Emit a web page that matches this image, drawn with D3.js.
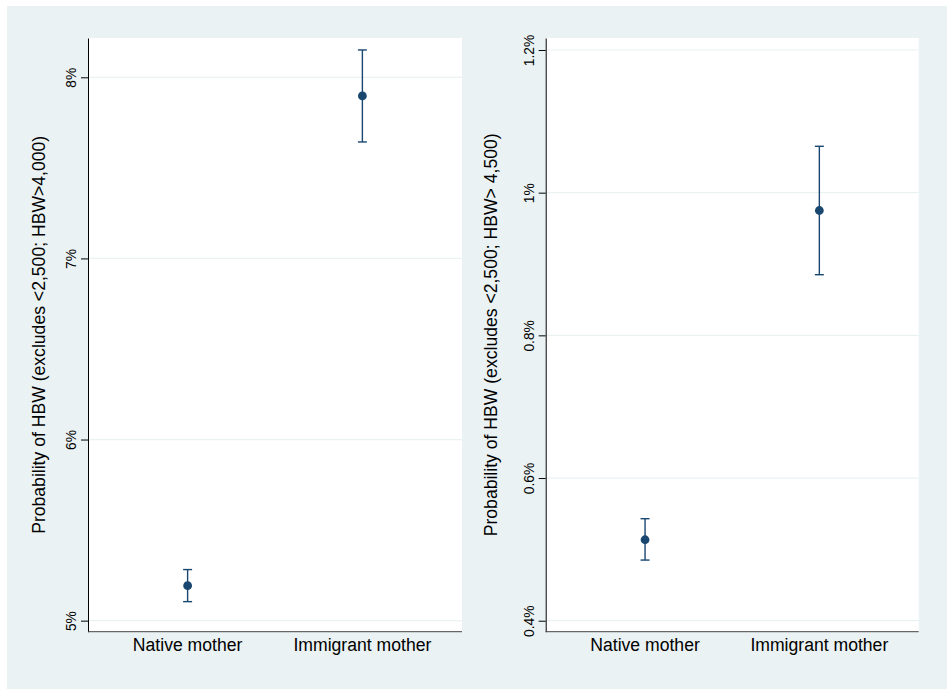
<!DOCTYPE html>
<html>
<head>
<meta charset="utf-8">
<script src="https://cdn.jsdelivr.net/npm/d3@7"></script>
<style>
  body { margin: 0; background: #fff; }
  text { font-family: "Liberation Sans", Arial, Helvetica, sans-serif; fill: #000; }
</style>
</head>
<body>
<div id="chart"></div>
<script>
// categories on the x axis of both panels
const categories = ["Native mother", "Immigrant mother"];

// panel 1: HBW > 4,000 (percent)
const hbw4000Est = [5.193, 7.897];
const hbw4000Lo  = [5.105, 7.643];
const hbw4000Hi  = [5.282, 8.151];
const hbw4000Ticks = [5, 6, 7, 8];

// panel 2: HBW > 4,500 (percent)
const hbw4500Est = [0.5135, 0.975];
const hbw4500Lo  = [0.485, 0.885];
const hbw4500Hi  = [0.543, 1.065];
const hbw4500Ticks = [0.4, 0.6, 0.8, 1.0, 1.2];

const W = 947, H = 689;
const navy = "#1a476f", bgCol = "#eaf2f3";

const svg = d3.select("#chart").append("svg")
  .attr("width", W)
  .attr("height", H)

svg.append("rect")
  .attr("x", 7).attr("y", 6)
  .attr("width", W - 7).attr("height", H - 6)
  .attr("fill", bgCol)

const panels = [
  { x0: 88, x1: 462, titleX: 45, domain: [4.939, 8.217],
    est: hbw4000Est, lo: hbw4000Lo, hi: hbw4000Hi, ticks: hbw4000Ticks,
    title: "Probability of HBW (excludes <2,500; HBW>4,000)" },
  { x0: 545.7, x1: 918.7, titleX: 497, domain: [0.3846, 1.2168],
    est: hbw4500Est, lo: hbw4500Lo, hi: hbw4500Hi, ticks: hbw4500Ticks,
    title: "Probability of HBW (excludes <2,500; HBW> 4,500)" }
];

const plotTop = 38, plotBottom = 631.7;
const fmt = d => d3.format("~g")(d) + "%";

panels.forEach(p => {
  const g = svg.append("g")

  const x = d3.scalePoint()
    .domain(categories)
    .range([p.x0, p.x1])
    .padding(0.57)

  const y = d3.scaleLinear()
    .domain(p.domain)
    .range([plotBottom, plotTop])

  // plot region
  g.append("rect")
    .attr("x", p.x0).attr("y", plotTop)
    .attr("width", p.x1 - p.x0).attr("height", plotBottom - plotTop)
    .attr("fill", "#fff")

  // grid lines
  g.selectAll(".grid")
    .data(p.ticks)
    .enter()
    .append("line")
    .attr("x1", p.x0).attr("x2", p.x1)
    .attr("y1", d => y(d)).attr("y2", d => y(d))
    .attr("stroke", bgCol)
    .attr("stroke-width", 1.2)

  // y axis
  const ax = g.append("g")
    .attr("transform", `translate(${p.x0},0)`)
    .call(d3.axisLeft(y).tickValues(p.ticks).tickFormat(fmt).tickSize(7).tickSizeOuter(0))
    .attr("font-size", 13.8)
    .attr("font-family", "'Liberation Sans', Arial, sans-serif")
  ax.select(".domain").attr("stroke", "#000")
  ax.selectAll(".tick line").attr("stroke", "#000")
  ax.selectAll(".tick text")
    .attr("x", null).attr("dy", null)
    .attr("transform", "translate(-12,0) rotate(-90)")
    .attr("text-anchor", "middle")
    .attr("font-size", 13.8)
    .style("font-size", "13.8px")
    .attr("fill", "#000")

  // bottom axis line
  g.append("line")
    .attr("x1", p.x0).attr("x2", p.x1)
    .attr("y1", plotBottom).attr("y2", plotBottom)
    .attr("stroke", "#444")
    .attr("stroke-width", 1)

  // category labels
  g.selectAll(".cat")
    .data(categories)
    .enter()
    .append("text")
    .attr("x", d => x(d))
    .attr("y", 650.5)
    .attr("text-anchor", "middle")
    .style("font-size", "17.6px")
    .text(d => d)

  // y title
  g.append("text")
    .attr("transform", `translate(${p.titleX},${(plotTop + plotBottom) / 2}) rotate(-90)`)
    .attr("text-anchor", "middle")
    .style("font-size", "17.6px")
    .text(p.title)

  // error bars
  const rows = categories.map((c, i) => ({ c: c, est: p.est[i], lo: p.lo[i], hi: p.hi[i] }))

  g.selectAll(".ci")
    .data(rows)
    .enter()
    .append("line")
    .attr("x1", d => x(d.c)).attr("x2", d => x(d.c))
    .attr("y1", d => y(d.lo)).attr("y2", d => y(d.hi))
    .attr("stroke", navy)
    .attr("stroke-width", 1.4)

  ;["lo", "hi"].forEach(k => {
    g.selectAll(".cap-" + k)
      .data(rows)
      .enter()
      .append("line")
      .attr("x1", d => x(d.c) - 4.5).attr("x2", d => x(d.c) + 4.5)
      .attr("y1", d => y(d[k])).attr("y2", d => y(d[k]))
      .attr("stroke", navy)
      .attr("stroke-width", 1.4)
  })

  g.selectAll("circle")
    .data(rows)
    .enter()
    .append("circle")
    .attr("cx", d => x(d.c))
    .attr("cy", d => y(d.est))
    .attr("r", 4.4)
    .attr("fill", navy)
})
</script>
</body>
</html>
